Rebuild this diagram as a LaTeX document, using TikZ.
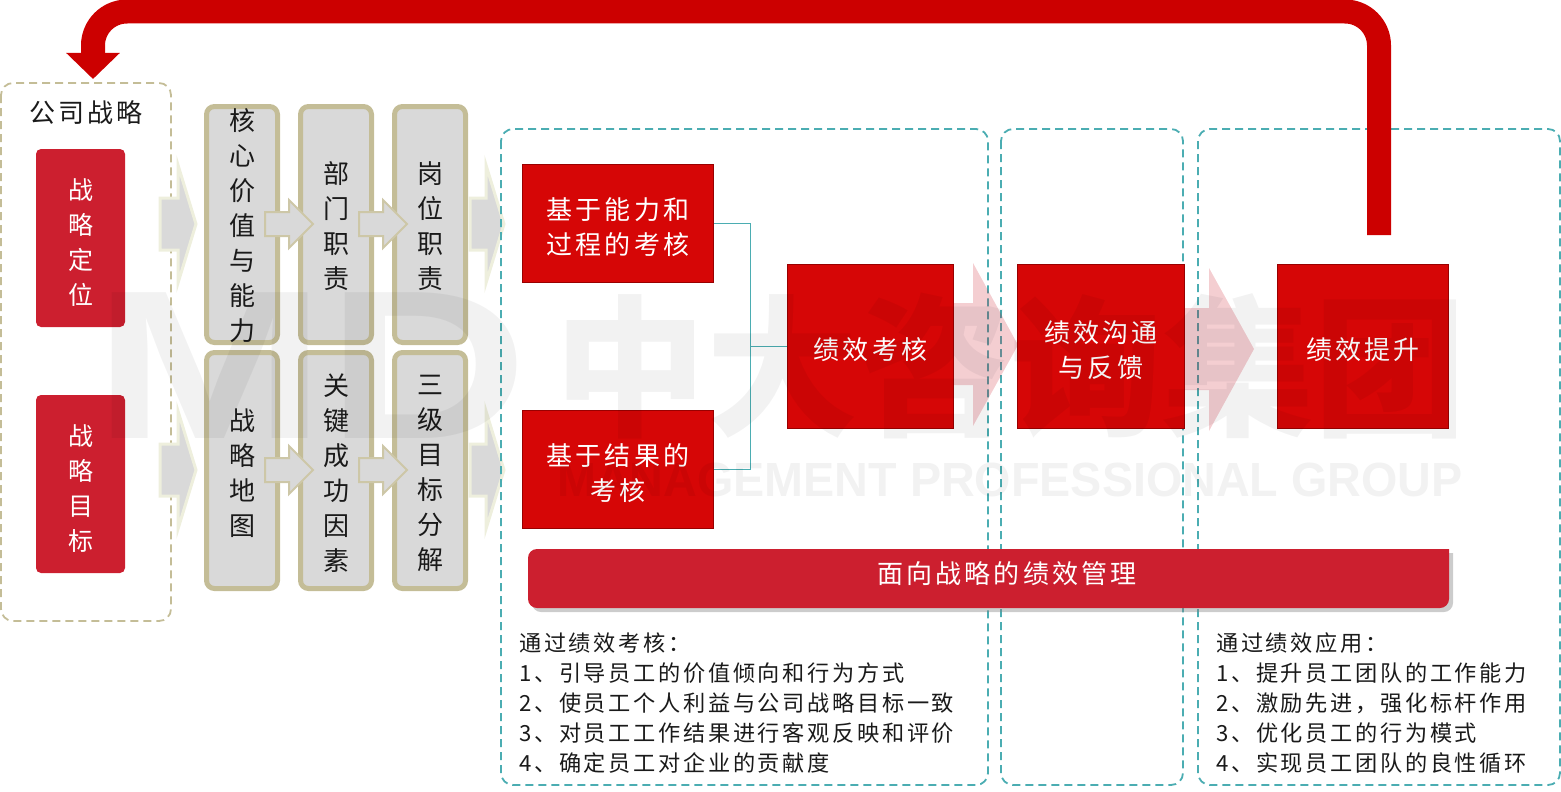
\documentclass[tikz,border=0pt]{standalone}
\usepackage{fontspec}
\setmainfont[LetterSpace=12]{Noto Sans CJK SC}
\newfontfamily\markfont{Noto Sans CJK SC}
\newfontfamily\latinmark{Liberation Sans}
\usetikzlibrary{arrows.meta,shadows}
\definecolor{tan}{HTML}{C4BD97}
\definecolor{palegreen}{HTML}{EEEFDD}
\definecolor{teal}{HTML}{4BADB2}
\definecolor{crimson}{HTML}{CC1F2F}
\definecolor{loopred}{HTML}{CC0000}
\definecolor{inkblack}{HTML}{1A1A1A}
\definecolor{bevelhigh}{HTML}{F21616}
\definecolor{bevelmid}{HTML}{D60606}
\definecolor{bevellow}{HTML}{9A0A0A}
\pgfdeclareverticalshading{bevelred}{100bp}{color(0bp)=(bevellow); color(3bp)=(bevelmid); color(96bp)=(bevelmid); color(100bp)=(bevelhigh)}
\tikzset{
	strategybox/.style={draw=tan, line width=1.8pt, dash pattern=on 8pt off 5pt, rounded corners=12pt},
	stagebox/.style={draw=teal, line width=1.8pt, dash pattern=on 8pt off 5pt, rounded corners=12pt},
	dropline/.style={execute at begin node={\rule{0pt}{#1}}},
	crimsonbox/.style={dropline=134pt, fill=crimson, rounded corners=5pt, minimum width=89pt, minimum height=178pt, inner sep=0pt, text=white, align=center, font=\fontsize{25}{35}\selectfont},
	greybox/.style={draw=tan, line width=5pt, fill=black!15, rounded corners=8pt, minimum width=71pt, minimum height=236pt, inner sep=0pt},
	columntext/.style={inner sep=0pt, align=center, text=inkblack, font=\fontsize{26}{35}\selectfont},
	redbox/.style={draw=red!60!black, line width=0.8pt, shading=bevelred, inner sep=0pt, text=white, align=center, font=\fontsize{26}{35}\selectfont},
	listtext/.style={inner sep=0pt, anchor=west, align=left, text=inkblack, font=\fontsize{22.2}{30}\selectfont},
	bigchevron/.style={draw=palegreen, line width=3pt, fill=black!15},
	smallchevron/.style={draw=tan!85, line width=2pt, fill=black!15},
	pinkarrow/.style={fill=crimson, opacity=0.22},
	forkline/.style={draw=teal, line width=1pt},
	loopline/.style={draw=loopred, line width=24pt, rounded corners=34pt, -{Triangle[length=26pt,width=52pt]}},
	markword/.style={inner sep=0pt, text=black, text opacity=0.05}
}
\begin{document}
\begin{tikzpicture}[x=1pt, y=-1pt]
	\useasboundingbox (0, 0) rectangle (1561, 792);
	% left column
	\draw[strategybox] (1, 83) rectangle (171, 621);
	\node[columntext] (strategytitle) at (86, 113) {公司战略};
	\node[crimsonbox] (position) at (80.5, 238) {战\\略\\定\\位};
	\node[crimsonbox] (goal) at (80.5, 484) {战\\略\\目\\标};
	% grey columns
	\node[greybox] (corebox) at (242, 224.5) {};
	\node[columntext] (coretext) at (242, 226) {核\\心\\价\\值\\与\\能\\力};
	\node[greybox] (deptbox) at (336, 224.5) {};
	\node[columntext] (depttext) at (336, 226) {部\\门\\职\\责};
	\node[greybox] (postbox) at (430, 224.5) {};
	\node[columntext] (posttext) at (430, 226) {岗\\位\\职\\责};
	\node[greybox] (mapbox) at (242, 470.5) {};
	\node[columntext] (maptext) at (242, 473) {战\\略\\地\\图};
	\node[greybox] (keybox) at (336, 470.5) {};
	\node[columntext] (keytext) at (336, 473) {关\\键\\成\\功\\因\\素};
	\node[greybox] (splitbox) at (430, 470.5) {};
	\node[columntext] (splittext) at (430, 473) {三\\级\\目\\标\\分\\解};
	% chevrons between the columns
	\foreach \y in {224, 470} {
		\draw[bigchevron] (160, \y-26) -- (178, \y-26) -- (178, \y-59) -- (196, \y) -- (178, \y+59) -- (178, \y+26) -- (160, \y+26) -- cycle;
		\draw[bigchevron] (470, \y-26) -- (486, \y-26) -- (486, \y-59) -- (504, \y) -- (486, \y+59) -- (486, \y+26) -- (470, \y+26) -- cycle;
		\foreach \x in {265, 359} {
			\draw[smallchevron] (\x, \y-12) -- (\x+24, \y-12) -- (\x+24, \y-24) -- (\x+48, \y) -- (\x+24, \y+24) -- (\x+24, \y+12) -- (\x, \y+12) -- cycle;
		}
	}
	% stage frames
	\draw[stagebox] (501, 129) rectangle (988, 785);
	\draw[stagebox] (1001, 129) rectangle (1183, 785);
	\draw[stagebox] (1198, 129) rectangle (1560, 785);
	\fill[pinkarrow] (954, 303) -- (973, 303) -- (973, 263) -- (1018, 345) -- (973, 426) -- (973, 385) -- (954, 385) -- cycle;
	\fill[pinkarrow] (1185, 308) -- (1209, 308) -- (1209, 268) -- (1254, 349) -- (1209, 431) -- (1209, 390) -- (1185, 390) -- cycle;
	% red boxes
	\node[redbox, dropline=64pt, minimum width=191pt, minimum height=118pt] (process) at (618, 223.5) {基于能力和\\过程的考核};
	\node[redbox, dropline=64pt, minimum width=191pt, minimum height=118pt] (result) at (618, 469.5) {基于结果的\\考核};
	\node[redbox, dropline=29pt, minimum width=166pt, minimum height=164pt] (appraisal) at (870.5, 346.5) {绩效考核};
	\node[redbox, dropline=64pt, minimum width=167pt, minimum height=164pt] (feedback) at (1101, 346.5) {绩效沟通\\与反馈};
	\node[redbox, dropline=29pt, minimum width=171pt, minimum height=164pt] (improve) at (1363, 346.5) {绩效提升};
	\coordinate (fork) at (750.5, 346.5);
	\draw[forkline] (process.east) -| (fork);
	\draw[forkline] (result.east) -| (fork);
	\draw[forkline, line width=1.5pt] (fork) -- (appraisal.west);
	% band
	\fill[crimson, drop shadow={shadow xshift=4pt, shadow yshift=-4pt, opacity=0.4}] (1449, 549) [rounded corners=9pt] -- (1449, 608) -- (528, 608) -- (528, 549) [sharp corners] -- cycle;
	\node[inner sep=0pt, text=white, font=\fontsize{26}{30}\selectfont] (bandtitle) at (1007, 574) {面向战略的绩效管理};
	% lists
	\node[listtext] (leftlist) at (519, 703) {通过绩效考核：\\1、引导员工的价值倾向和行为方式\\2、使员工个人利益与公司战略目标一致\\3、对员工工作结果进行客观反映和评价\\4、确定员工对企业的贡献度};
	\node[listtext] (rightlist) at (1216, 703.5) {通过绩效应用：\\1、提升员工团队的工作能力\\2、激励先进，强化标杆作用\\3、优化员工的行为模式\\4、实现员工团队的良性循环};
	% loop back
	\coordinate (loopstart) at (1379, 235);
	\coordinate (looptop) at (1379, 11.5);
	\coordinate (loopend) at (93, 79);
	\draw[loopline] (loopstart) -- (looptop) -- (loopend |- looptop) -- (loopend);
	% watermark
	\node[markword, font=\latinmark\bfseries\fontsize{212}{212}\selectfont, xscale=1.32] (marklogo) at (311, 366) {MD};
	\node[markword, font=\markfont\bfseries\fontsize{152}{152}\selectfont] (markname) at (1010, 366) {中大咨询集团};
	\node[markword, font=\latinmark\bfseries\fontsize{48}{48}\selectfont, xscale=0.973] (markline) at (1010, 480) {MANAGEMENT PROFESSIONAL GROUP};
\end{tikzpicture}
\end{document}
